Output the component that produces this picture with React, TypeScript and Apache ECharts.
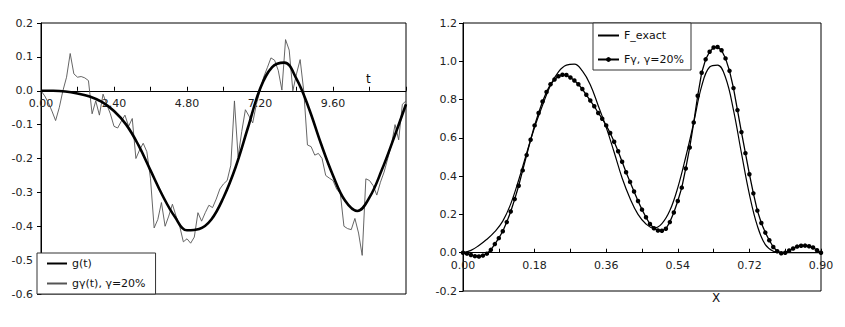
import React, { useEffect, useRef } from "react";
import * as echarts from "echarts";

const FONT = "DejaVu Sans";

// ---- Left chart: g(t) and noisy gγ(t) ----
const G_T = [0, 0.4, 0.8, 1.2, 1.6, 2.0, 2.4, 2.8, 3.2, 3.6, 4.0, 4.4, 4.8, 5.2, 5.6, 6.0, 6.4, 6.8, 7.2, 7.6, 8.0, 8.4, 8.8, 9.2, 9.6, 10.0, 10.4, 10.8, 11.2, 11.6, 12.0];
const G_VALUES = [0, 0, -0.002, -0.008, -0.017, -0.033, -0.06, -0.1, -0.16, -0.235, -0.31, -0.372, -0.412, -0.408, -0.38, -0.315, -0.225, -0.11, 0.005, 0.07, 0.083, 0.035, -0.05, -0.155, -0.25, -0.325, -0.355, -0.315, -0.235, -0.14, -0.04];

const NOISY_STEP = 0.12;
const NOISY_VALUES = [
  0.0, -0.015, -0.035, -0.06, -0.088, -0.05, 0.0, 0.04, 0.11, 0.05,
  0.04, 0.042, 0.038, 0.03, -0.068, -0.03, -0.072, -0.01, -0.04, -0.068,
  -0.105, -0.11, -0.09, -0.072, -0.105, -0.082, -0.2, -0.175, -0.155, -0.18,
  -0.26, -0.405, -0.38, -0.33, -0.4, -0.37, -0.335, -0.37, -0.4, -0.446,
  -0.437, -0.45, -0.432, -0.36, -0.385, -0.36, -0.338, -0.345, -0.32, -0.29,
  -0.275, -0.265, -0.22, -0.03, -0.195, -0.12, -0.056, -0.075, -0.095, -0.04,
  0.0, 0.04, 0.068, 0.097, 0.09, 0.06, 0.002, 0.151, 0.12, 0.0,
  0.05, 0.092, -0.002, -0.16, -0.165, -0.19, -0.185, -0.2, -0.25, -0.258,
  -0.265, -0.29, -0.303, -0.4, -0.407, -0.41, -0.377, -0.42, -0.486, -0.26,
  -0.265, -0.28, -0.308, -0.27, -0.24, -0.2, -0.16, -0.1, -0.145, -0.04,
  -0.03,
];

// ---- Right chart: F_exact and Fγ ----
const F_STEP = 0.02;
const F_EXACT_VALUES = [
  0, 0.012, 0.038, 0.07, 0.11, 0.165, 0.255, 0.38, 0.52, 0.655,
  0.77, 0.875, 0.945, 0.98, 0.985, 0.95, 0.878, 0.768, 0.655, 0.525,
  0.39, 0.283, 0.2, 0.15, 0.128, 0.152, 0.22, 0.34, 0.5, 0.68,
  0.87, 0.97, 0.98, 0.915, 0.745, 0.52, 0.305, 0.14, 0.042, 0.008,
  0, 0, 0, 0, 0, 0,
];

const FG_STEP = 0.01;
const FG_VALUES = [
  0.0, -0.005, -0.012, -0.018, -0.02, -0.015, -0.005, 0.015, 0.045, 0.076,
  0.112, 0.16, 0.215, 0.28, 0.35, 0.43, 0.51, 0.59, 0.665, 0.73,
  0.79, 0.84, 0.88, 0.905, 0.922, 0.93, 0.928, 0.915, 0.9, 0.88,
  0.855, 0.825, 0.795, 0.765, 0.73, 0.7, 0.665, 0.625, 0.58, 0.53,
  0.475, 0.42, 0.37, 0.32, 0.27, 0.225, 0.185, 0.15, 0.128, 0.116,
  0.115, 0.125, 0.16, 0.21, 0.27, 0.34, 0.44, 0.55, 0.68, 0.82,
  0.94, 1.01, 1.05, 1.072, 1.075, 1.058, 1.015, 0.95, 0.86, 0.745,
  0.63, 0.52, 0.41, 0.31, 0.22, 0.155, 0.105, 0.065, 0.03, 0.008,
  -0.003, 0.0, 0.012, 0.022, 0.032, 0.036, 0.037, 0.034, 0.027, 0.013,
  0.0,
];

// ---- Axis ranges and tick labels ----
const LEFT_X = { min: 0, max: 12, interval: 1.2 };
const LEFT_Y = { min: -0.6, max: 0.2, interval: 0.1 };
const RIGHT_X = { min: 0, max: 0.9, interval: 0.09 };
const RIGHT_Y = { min: -0.2, max: 1.2, interval: 0.2 };
const LEFT_X_LABELS = ["0.00", "2.40", "4.80", "7.20", "9.60"];
const RIGHT_X_LABELS = ["0.00", "0.18", "0.36", "0.54", "0.72", "0.90"];

const SERIES_G = "g(t)";
const SERIES_GN = "gγ(t), γ=20%";
const SERIES_F = "F_exact";
const SERIES_FG = "Fγ, γ=20%";

// layout
const LEFT_GRID = { left: 41, top: 23, width: 365, height: 271 };
const RIGHT_GRID = { left: 463, top: 23, width: 358, height: 268 };

const fmtY = (v: number) => {
  const s = v.toFixed(1);
  return s === "-0.0" ? "0.0" : s;
};

const labelStyle = { fontFamily: FONT, fontSize: 11, color: "#222" };

// offset that lifts a bottom x axis up to the y=0 line of its grid
const zeroOffset = (grid: { height: number }, y: { min: number; max: number }) =>
  -grid.height * (0 - y.min) / (y.max - y.min);

export default function App() {
  const ref = useRef<HTMLDivElement>(null);

  useEffect(() => {
    document.body.style.margin = "0";
    if (!ref.current) return;
    const chart = echarts.init(ref.current, undefined, { renderer: "svg" });

    const gData = G_T.map((t, i) => [t, G_VALUES[i]]);
    const gnData = NOISY_VALUES.map((v, i) => [+(i * NOISY_STEP).toFixed(2), v]);
    const fData = F_EXACT_VALUES.map((v, i) => [+(i * F_STEP).toFixed(2), v]);
    const fgData = FG_VALUES.map((v, i) => [+(i * FG_STEP).toFixed(2), v]);

    const xAxisCommon = {
      type: "value",
      position: "bottom",
      axisLine: { onZero: false, lineStyle: { color: "#000", width: 1 } },
      axisTick: { show: true, inside: true, length: 4, lineStyle: { color: "#000" } },
      splitLine: { show: false },
    };
    const yAxisCommon = {
      type: "value",
      axisLine: { show: true, onZero: false, lineStyle: { color: "#000", width: 1 } },
      axisTick: { show: true, inside: false, length: 4, lineStyle: { color: "#000" } },
      splitLine: { show: false },
    };

    const option: any = {
      animation: false,
      backgroundColor: "#fff",
      textStyle: { fontFamily: FONT },
      grid: [
        { ...LEFT_GRID, show: true, borderColor: "#000", borderWidth: 1, backgroundColor: "transparent" },
        { ...RIGHT_GRID, show: true, borderColor: "#000", borderWidth: 1, backgroundColor: "transparent" },
      ],
      xAxis: [
        {
          ...xAxisCommon,
          gridIndex: 0,
          ...LEFT_X,
          offset: zeroOffset(LEFT_GRID, LEFT_Y),
          axisLabel: {
            ...labelStyle,
            margin: 7,
            showMaxLabel: true,
            formatter: (v: number) => {
              const s = v.toFixed(2);
              return LEFT_X_LABELS.includes(s) ? s : "";
            },
          },
        },
        {
          ...xAxisCommon,
          gridIndex: 1,
          ...RIGHT_X,
          offset: zeroOffset(RIGHT_GRID, RIGHT_Y),
          axisLabel: {
            ...labelStyle,
            margin: 7,
            showMaxLabel: true,
            formatter: (v: number) => {
              const s = v.toFixed(2);
              return RIGHT_X_LABELS.includes(s) ? s : "";
            },
          },
        },
      ],
      yAxis: [
        {
          ...yAxisCommon,
          gridIndex: 0,
          ...LEFT_Y,
          axisLabel: { ...labelStyle, margin: 8, formatter: fmtY },
        },
        {
          ...yAxisCommon,
          gridIndex: 1,
          ...RIGHT_Y,
          axisLabel: { ...labelStyle, margin: 6, formatter: fmtY },
        },
      ],
      legend: [
        {
          orient: "vertical",
          left: 37,
          top: 253,
          selectedMode: false,
          data: [
            { name: SERIES_G, itemStyle: { opacity: 0 } },
            { name: SERIES_GN, itemStyle: { opacity: 0 } },
          ],
          itemWidth: 20,
          itemHeight: 6,
          itemGap: 9,
          padding: [5, 10, 5, 9],
          borderColor: "#333",
          borderWidth: 1,
          borderRadius: 0,
          backgroundColor: "#fff",
          textStyle: { fontFamily: FONT, fontSize: 11, color: "#111" },
        },
        {
          orient: "vertical",
          left: 593,
          top: 23,
          selectedMode: false,
          data: [
            { name: SERIES_F, itemStyle: { opacity: 0 } },
            { name: SERIES_FG },
          ],
          itemWidth: 21,
          itemHeight: 6,
          itemGap: 13,
          padding: [7, 7, 5, 4],
          borderColor: "#333",
          borderWidth: 1,
          borderRadius: 0,
          backgroundColor: "#fff",
          textStyle: { fontFamily: FONT, fontSize: 11, color: "#111" },
        },
      ],
      graphic: [
        { type: "text", left: 366, top: 73, style: { text: "t", font: `12px '${FONT}'`, fill: "#111" } },
        { type: "text", left: 712, top: 292, style: { text: "X", font: `12px '${FONT}'`, fill: "#111" } },
      ],
      series: [
        {
          name: SERIES_GN,
          type: "line",
          xAxisIndex: 0,
          yAxisIndex: 0,
          data: gnData,
          showSymbol: false,
          symbol: "none",
          lineStyle: { color: "#555", width: 0.9 },
          itemStyle: { color: "#555" },
          z: 2,
        },
        {
          name: SERIES_G,
          type: "line",
          xAxisIndex: 0,
          yAxisIndex: 0,
          data: gData,
          smooth: 0.4,
          showSymbol: false,
          symbol: "none",
          lineStyle: { color: "#000", width: 2.6 },
          itemStyle: { color: "#000" },
          z: 3,
        },
        {
          name: SERIES_F,
          type: "line",
          xAxisIndex: 1,
          yAxisIndex: 1,
          data: fData,
          smooth: 0.4,
          showSymbol: false,
          symbol: "none",
          lineStyle: { color: "#000", width: 1.2 },
          itemStyle: { color: "#000" },
          z: 2,
        },
        {
          name: SERIES_FG,
          type: "line",
          xAxisIndex: 1,
          yAxisIndex: 1,
          data: fgData,
          symbol: "circle",
          symbolSize: 4.5,
          showSymbol: true,
          lineStyle: { color: "#000", width: 1.3 },
          itemStyle: { color: "#000" },
          z: 3,
        },
      ],
    };

    chart.setOption(option);
    return () => chart.dispose();
  }, []);

  return <div ref={ref} style={{ width: 845, height: 327 }} />;
}
